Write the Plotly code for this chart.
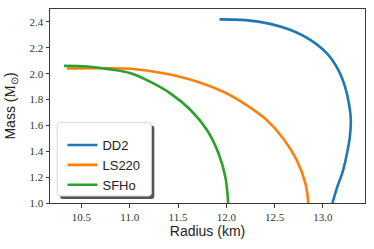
import plotly.graph_objects as go

# Mass-radius relations
dd2_radius = [11.93, 12.20, 12.455, 12.66, 12.87, 13.04, 13.16, 13.23, 13.27, 13.29, 13.28, 13.25, 13.21, 13.15, 13.10]
dd2_mass   = [2.420, 2.414, 2.385, 2.339, 2.261, 2.158, 2.029, 1.899, 1.771, 1.641, 1.512, 1.383, 1.253, 1.124, 1.000]

ls220_radius = [10.35, 10.70, 11.01, 11.35, 11.70, 11.97, 12.21, 12.42, 12.59, 12.73, 12.82, 12.85]
ls220_mass   = [2.040, 2.042, 2.038, 2.003, 1.938, 1.860, 1.757, 1.641, 1.499, 1.331, 1.150, 1.000]

sfho_radius = [10.32, 10.56, 10.78, 11.01, 11.21, 11.42, 11.63, 11.80, 11.92, 11.99, 12.02]
sfho_mass   = [2.060, 2.055, 2.035, 2.003, 1.938, 1.848, 1.719, 1.564, 1.383, 1.202, 1.000]

series = [
    ("DD2", dd2_radius, dd2_mass, "#1f77b4"),
    ("LS220", ls220_radius, ls220_mass, "#ff7f0e"),
    ("SFHo", sfho_radius, sfho_mass, "#2ca02c"),
]

x_ticks = [10.5, 11.0, 11.5, 12.0, 12.5, 13.0]
y_ticks = [1.0, 1.2, 1.4, 1.6, 1.8, 2.0, 2.2, 2.4]

fig = go.Figure()
for name, r, m, c in series:
    fig.add_trace(go.Scatter(x=r, y=m, mode="lines", name=name,
                             line=dict(color=c, width=2.6, shape="spline", smoothing=1.0)))

axis_common = dict(showgrid=False, zeroline=False, showline=True, mirror=True,
                   linecolor="#3a3a3a", linewidth=1, ticks="outside", ticklen=3.5,
                   tickwidth=0.8, tickcolor="#3a3a3a", automargin=False,
                   tickfont=dict(family="Liberation Serif", size=11, color="#333"))

fig.update_xaxes(range=[10.174, 13.437], tickvals=x_ticks,
                 ticktext=[f"{v:.1f}" for v in x_ticks],
                 title=dict(text="Radius (km)", standoff=3,
                            font=dict(family="Liberation Sans", size=14, color="#222")),
                 **axis_common)
fig.update_yaxes(range=[1.0, 2.5], tickvals=y_ticks,
                 ticktext=[f"{v:.1f}" for v in y_ticks],
                 title=dict(text="Mass (<span style='font-family:Liberation Serif'>M<sub>⊙</sub></span>)", standoff=10,
                            font=dict(family="Liberation Sans", size=14, color="#222")),
                 **axis_common)

# legend frame with shadow (rounded)
def rounded(x0, y0, x1, y1, rx, ry):
    return (f"M{x0+rx},{y0} L{x1-rx},{y0} Q{x1},{y0} {x1},{y0+ry} "
            f"L{x1},{y1-ry} Q{x1},{y1} {x1-rx},{y1} L{x0+rx},{y1} Q{x0},{y1} {x0},{y1-ry} "
            f"L{x0},{y0+ry} Q{x0},{y0} {x0+rx},{y0} Z")

W, H = 315.5, 194.0
def px(xp, yp):
    return ((xp - 49.5) / W, (203 - yp) / H)

sx0, sy0 = px(59.5, 199)
sx1, sy1 = px(154, 125.5)
lx0, ly0 = px(56.7, 196)
lx1, ly1 = px(151, 122.7)
fig.add_shape(type="path", xref="paper", yref="paper", layer="above",
              path=rounded(sx0, sy0, sx1, sy1, 3 / W, 3 / H),
              fillcolor="#555", line=dict(width=0))
fig.add_shape(type="path", xref="paper", yref="paper", layer="above",
              path=rounded(lx0, ly0, lx1, ly1, 3 / W, 3 / H),
              fillcolor="white", line=dict(color="#d8d8d8", width=1))

fig.update_layout(
    width=374, height=249,
    margin=dict(l=50, r=9, t=9, b=46, autoexpand=False),
    plot_bgcolor="white", paper_bgcolor="white",
    showlegend=True,
    legend=dict(x=(62 - 49.5) / W, y=(203 - 130) / H, xanchor="left", yanchor="top",
                bgcolor="rgba(0,0,0,0)", borderwidth=0, itemwidth=30,
                font=dict(family="Liberation Sans", size=13, color="#222"),
                tracegroupgap=0),
)

fig.write_html("out.html", config={"displayModeBar": False},
               post_script="document.body.style.margin='0';document.body.style.padding='0';document.body.style.overflow='hidden';")
